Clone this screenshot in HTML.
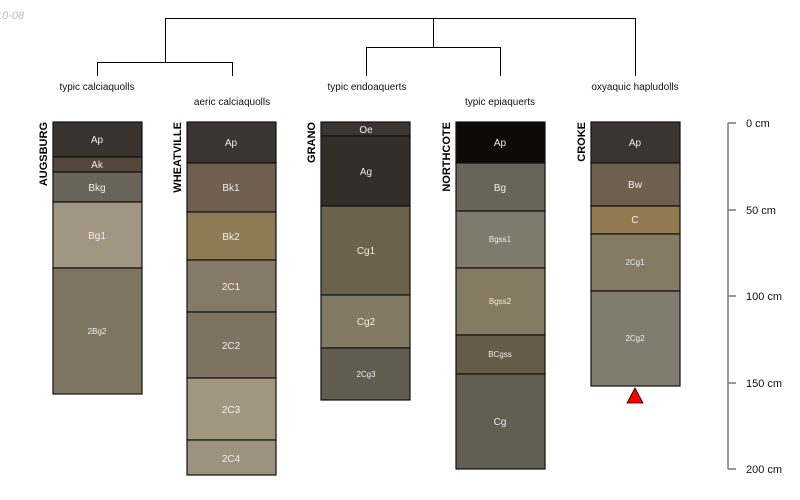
<!DOCTYPE html>
<html><head><meta charset="utf-8"><style>
html,body{margin:0;padding:0;background:#fff;}
svg{display:block;font-family:"Liberation Sans",sans-serif;}
</style></head><body>
<svg width="800" height="500" viewBox="0 0 800 500" xmlns="http://www.w3.org/2000/svg">
<text x="-4" y="19" font-size="11" font-style="italic" fill="#bbb">10-08</text>
<g stroke="#000" stroke-width="1" fill="none">
<path d="M165.5 62.5V18.5H635.5V76"/>
<path d="M433.5 18V47.5"/>
<path d="M366.5 76V47.5H500.5V76"/>
<path d="M97.5 76V62.5H232.5V76"/>
</g>
<g font-size="10" fill="#111" text-anchor="middle">
<text x="97" y="90">typic calciaquolls</text>
<text x="232" y="105">aeric calciaquolls</text>
<text x="367" y="90">typic endoaquerts</text>
<text x="500" y="105">typic epiaquerts</text>
<text x="635" y="90">oxyaquic hapludolls</text>
</g>
<g font-size="11" font-weight="bold" fill="#000" text-anchor="end">
<text transform="translate(47,122) rotate(-90)">AUGSBURG</text>
<text transform="translate(181,122) rotate(-90)">WHEATVILLE</text>
<text transform="translate(315,122) rotate(-90)">GRANO</text>
<text transform="translate(450,122) rotate(-90)">NORTHCOTE</text>
<text transform="translate(585,122) rotate(-90)">CROKE</text>
</g>
<g stroke="#111" stroke-width="1.2" fill="#fff">
<rect x="53" y="122" width="89" height="35" fill="#3a3430"/>
<rect x="53" y="157" width="89" height="15" fill="#54483a"/>
<rect x="53" y="172" width="89" height="30" fill="#6a655a"/>
<rect x="53" y="202" width="89" height="66" fill="#a09682"/>
<rect x="53" y="268" width="89" height="126" fill="#7e7662"/>
<rect x="187" y="122" width="89" height="41" fill="#3b3430"/>
<rect x="187" y="163" width="89" height="49" fill="#6e5f4e"/>
<rect x="187" y="212" width="89" height="48" fill="#8e7a55"/>
<rect x="187" y="260" width="89" height="52" fill="#857a68"/>
<rect x="187" y="312" width="89" height="66" fill="#7e7260"/>
<rect x="187" y="378" width="89" height="62" fill="#a19680"/>
<rect x="187" y="440" width="89" height="35" fill="#9c927e"/>
<rect x="321" y="122" width="89" height="14" fill="#3d3530"/>
<rect x="321" y="136" width="89" height="70" fill="#322f2a"/>
<rect x="321" y="206" width="89" height="89" fill="#6a624a"/>
<rect x="321" y="295" width="89" height="53" fill="#827a62"/>
<rect x="321" y="348" width="89" height="52" fill="#605c50"/>
<rect x="456" y="122" width="89" height="41" fill="#0c0b0a"/>
<rect x="456" y="163" width="89" height="48" fill="#686458"/>
<rect x="456" y="211" width="89" height="57" fill="#7e7a6c"/>
<rect x="456" y="268" width="89" height="67" fill="#857a62"/>
<rect x="456" y="335" width="89" height="39" fill="#655c48"/>
<rect x="456" y="374" width="89" height="95" fill="#625e52"/>
<rect x="591" y="122" width="89" height="41" fill="#3c3430"/>
<rect x="591" y="163" width="89" height="43" fill="#6e604e"/>
<rect x="591" y="206" width="89" height="28" fill="#927a50"/>
<rect x="591" y="234" width="89" height="57" fill="#857a64"/>
<rect x="591" y="291" width="89" height="95" fill="#807c6e"/>
</g>
<g font-size="10" text-anchor="middle" fill="#eee">
<text x="97" y="143">Ap</text>
<text x="97" y="168">Ak</text>
<text x="97" y="191">Bkg</text>
<text x="97" y="239">Bg1</text>
<text x="97" y="334" font-size="8">2Bg2</text>
<text x="231" y="146">Ap</text>
<text x="231" y="191">Bk1</text>
<text x="231" y="240">Bk2</text>
<text x="231" y="290">2C1</text>
<text x="231" y="349">2C2</text>
<text x="231" y="413">2C3</text>
<text x="231" y="462">2C4</text>
<text x="366" y="133">Oe</text>
<text x="366" y="175">Ag</text>
<text x="366" y="254">Cg1</text>
<text x="366" y="325">Cg2</text>
<text x="366" y="377" font-size="8">2Cg3</text>
<text x="500" y="146">Ap</text>
<text x="500" y="191">Bg</text>
<text x="500" y="242" font-size="8">Bgss1</text>
<text x="500" y="304" font-size="8">Bgss2</text>
<text x="500" y="357" font-size="8">BCgss</text>
<text x="500" y="425">Cg</text>
<text x="635" y="146">Ap</text>
<text x="635" y="188">Bw</text>
<text x="635" y="223">C</text>
<text x="635" y="265" font-size="8">2Cg1</text>
<text x="635" y="341" font-size="8">2Cg2</text>
</g>
<polygon points="635,388 627,403 643,403" fill="#f00" stroke="#000" stroke-width="0.8"/>
<g stroke="#777" stroke-width="1.5">
<line x1="728" y1="123" x2="728" y2="469"/>
<line x1="728" y1="123" x2="736" y2="123"/>
<line x1="728" y1="210" x2="736" y2="210"/>
<line x1="728" y1="296" x2="736" y2="296"/>
<line x1="728" y1="383" x2="736" y2="383"/>
<line x1="728" y1="469" x2="736" y2="469"/>
</g>
<g font-size="11" fill="#111">
<text x="746" y="127">0 cm</text>
<text x="746" y="214">50 cm</text>
<text x="746" y="300">100 cm</text>
<text x="746" y="387">150 cm</text>
<text x="746" y="473">200 cm</text>
</g>
</svg>
</body></html>
